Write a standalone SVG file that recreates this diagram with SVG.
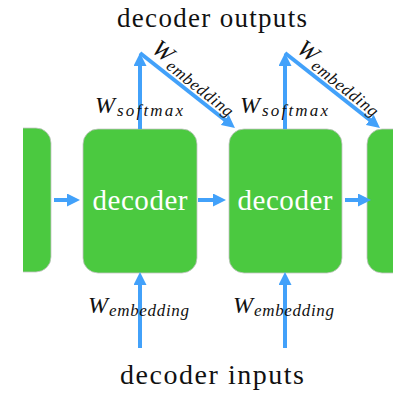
<svg xmlns="http://www.w3.org/2000/svg" width="414" height="402" viewBox="0 0 414 402">
<style>
.box{fill:#4bc940;stroke:#c4c4c4;stroke-width:0.8}
.lbl{font-family:"Liberation Serif",serif;fill:#111}
.in{font-family:"Liberation Serif",serif;fill:#ffffff;font-size:29px;text-anchor:middle}
.it{font-family:"Liberation Serif",serif;font-style:italic;fill:#111}
.c{stroke:#42a1fa;stroke-width:4;fill:none;marker-end:url(#ah)}
</style>
<defs>
<marker id="ah" markerUnits="userSpaceOnUse" markerWidth="13" markerHeight="13" refX="3" refY="6.5" orient="auto">
<path d="M0,0 L13,6.5 L0,13 z" fill="#42a1fa"/>
</marker>
<clipPath id="clip"><rect x="23" y="0" width="370" height="402"/></clipPath>
</defs>
<rect width="414" height="402" fill="#ffffff"/>
<g clip-path="url(#clip)">
<g id="node-left"><rect class="box" x="-40" y="128" width="91" height="144" rx="15"/></g>
<g id="node-right"><rect class="box" x="367" y="129" width="90" height="144" rx="15"/></g>
</g>
<g id="node-decoder1"><rect class="box" x="83" y="129" width="114" height="144" rx="15"/><text class="in" x="140" y="210" textLength="95">decoder</text></g>
<g id="node-decoder2"><rect class="box" x="229" y="129" width="113" height="144" rx="15"/><text class="in" x="285" y="210" textLength="95">decoder</text></g>
<g id="connectors">
<line class="c" x1="140" y1="129" x2="140" y2="63"/>
<line class="c" x1="140" y1="53" x2="227.1" y2="121.8"/>
<line class="c" x1="285" y1="129" x2="285" y2="63"/>
<line class="c" x1="285" y1="53" x2="372.1" y2="121.8"/>
<line class="c" x1="54" y1="200" x2="70" y2="200"/>
<line class="c" x1="198" y1="200" x2="216" y2="200"/>
<line class="c" x1="345" y1="200" x2="361" y2="200"/>
<line class="c" x1="140" y1="348" x2="140" y2="282"/>
<line class="c" x1="285" y1="348" x2="285" y2="282"/>
</g>
<g id="labels">
<text class="lbl" x="212" y="27" font-size="27" text-anchor="middle" textLength="190">decoder outputs</text>
<text class="lbl" x="212" y="384" font-size="28" text-anchor="middle" textLength="184">decoder inputs</text>
<text class="it" x="95" y="113" font-size="24">W</text>
<text class="it" x="117" y="116" font-size="17" textLength="66">softmax</text>
<text class="it" x="240" y="113" font-size="24">W</text>
<text class="it" x="262" y="116" font-size="17" textLength="66">softmax</text>
<text class="it" x="88" y="313" font-size="24">W</text>
<text class="it" x="109" y="316" font-size="17" textLength="80">embedding</text>
<text class="it" x="233" y="313" font-size="24">W</text>
<text class="it" x="254" y="316" font-size="17" textLength="80">embedding</text>
<g transform="translate(140,53) rotate(38.3)">
<text class="it" x="7" y="-8" font-size="24">W</text>
<text class="it" x="29" y="-4" font-size="17" textLength="80">embedding</text>
</g>
<g transform="translate(285,53) rotate(38.3)">
<text class="it" x="7" y="-8" font-size="24">W</text>
<text class="it" x="29" y="-4" font-size="17" textLength="80">embedding</text>
</g>
</g>
</svg>
